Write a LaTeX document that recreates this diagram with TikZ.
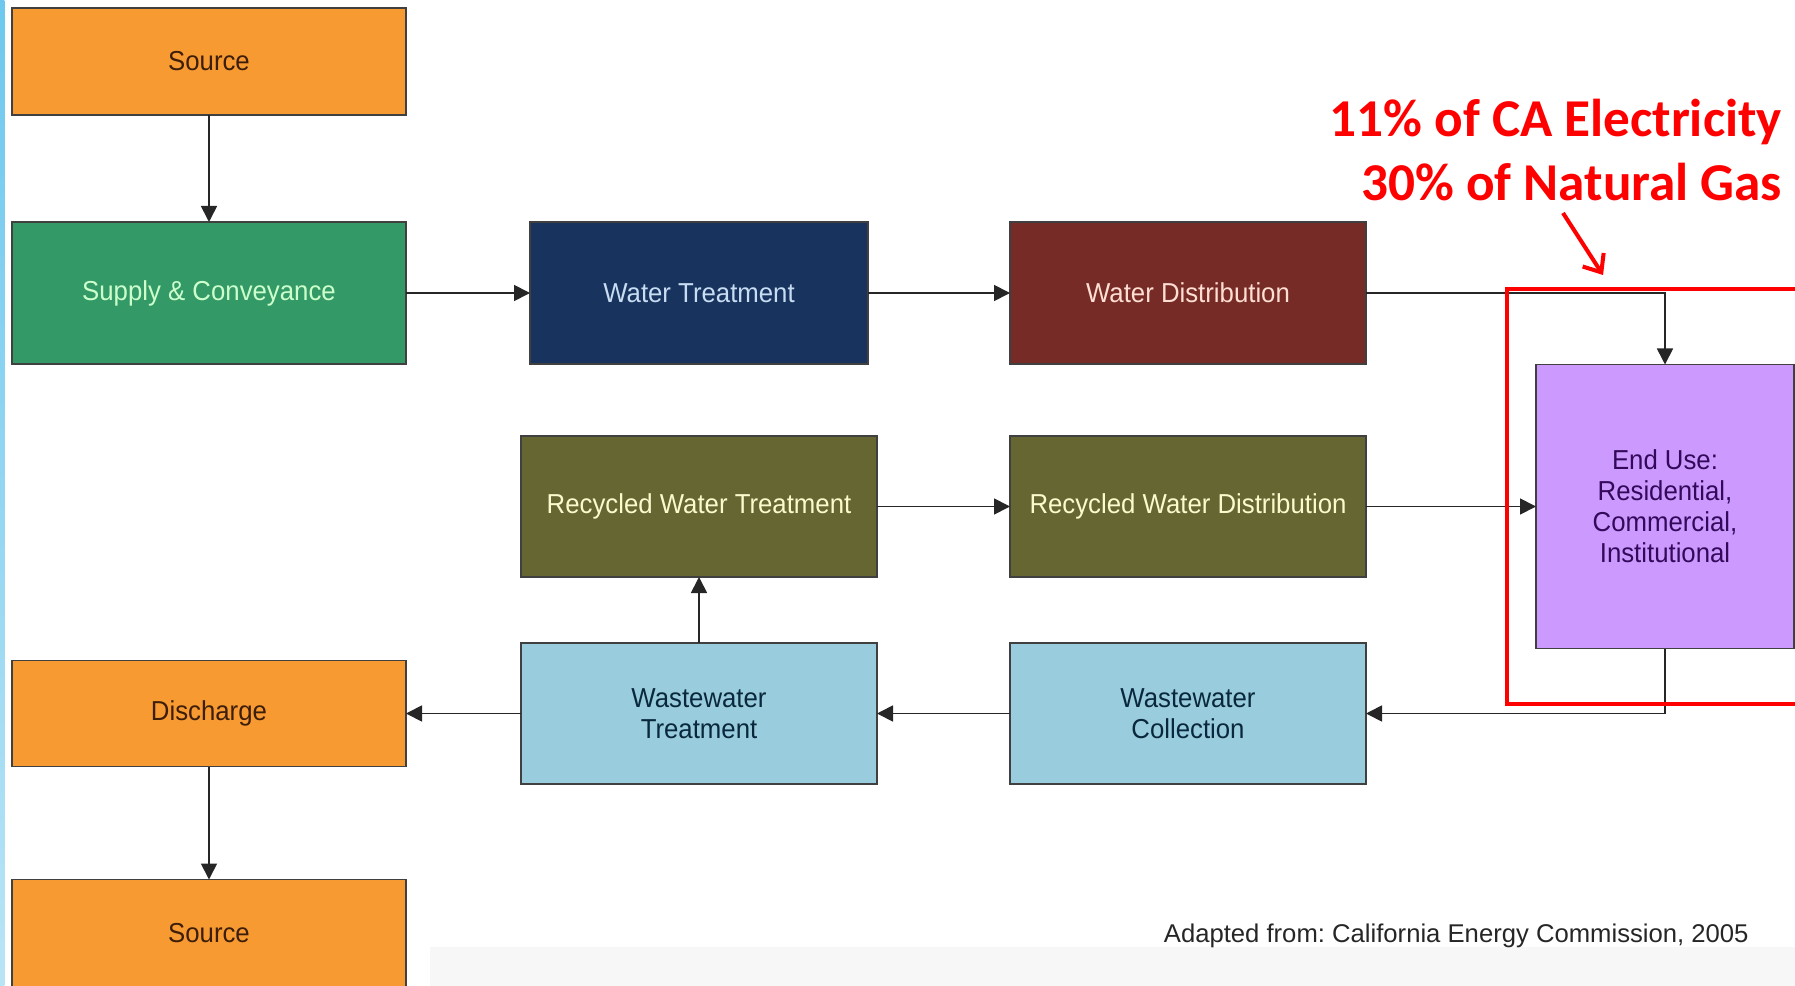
\documentclass[tikz,border=0pt]{standalone}
\usepackage{fontspec}
\setmainfont{Liberation Sans}
\newfontfamily\boxfont[FakeStretch=0.94]{Liberation Sans}
\newfontfamily\capfont{Liberation Sans}
\newfontfamily\notefont{Carlito}
\usetikzlibrary{positioning, arrows.meta}
\definecolor{myorange}{RGB}{248,154,50}
\definecolor{mygreen}{RGB}{51,153,102}
\definecolor{mynavy}{RGB}{23,51,94}
\definecolor{mybrown}{RGB}{119,43,38}
\definecolor{myolive}{RGB}{102,102,51}
\definecolor{mysky}{RGB}{153,204,221}
\definecolor{mypurple}{RGB}{204,153,255}
\frenchspacing

\begin{document}
\begin{tikzpicture}[->,>={Triangle[length=0.32cm,width=0.32cm]},line width=1pt,draw=black!85]
  \tikzstyle{stage}=[rectangle,draw=black!75,line width=1pt,outer sep=0pt,inner sep=2pt,align=center,
    minimum width=7.12cm,minimum height=2.82cm,font=\boxfont\fontsize{15.6}{17.6}\selectfont]
  \tikzstyle{orange}=[stage,fill=myorange,text={rgb,255:red,60;green,30;blue,10},minimum width=7.88cm,minimum height=2.14cm]
  \tikzstyle{hilite}=[rectangle,draw=red,line width=2.3pt]

  \useasboundingbox (0,0) rectangle (35.9,-19.72);
  \shade[top color={rgb,255:red,110;green,200;blue,238},bottom color={rgb,255:red,185;green,228;blue,246}] (0,0) rectangle (0.09,-19.72);
  \fill[black!3] (8.6,-18.94) rectangle (35.9,-19.72);

  \node[orange] (src1) at (4.18,-1.23) {Source};
  \node[stage,fill=mygreen,text={rgb,255:red,204;green,255;blue,204},minimum width=7.88cm,minimum height=2.84cm] (sup) [below=2.14cm of src1] {Supply \& Conveyance};
  \node[stage,fill=mynavy,text={rgb,255:red,200;green,220;blue,242},minimum width=6.76cm,minimum height=2.84cm] (wt) [right=2.48cm of sup] {Water Treatment};
  \node[stage,fill=mybrown,text={rgb,255:red,255;green,222;blue,212},minimum height=2.84cm] (wd) [right=2.84cm of wt] {Water Distribution};
  \node[stage,fill=myolive,text={rgb,255:red,250;green,250;blue,205}] (rwt) [below=1.44cm of wt] {Recycled Water Treatment};
  \node[stage,fill=myolive,text={rgb,255:red,250;green,250;blue,205}] (rwd) [below=1.44cm of wd] {Recycled Water Distribution};
  \node[stage,fill=mysky,text={rgb,255:red,10;green,40;blue,60}] (wwt) [below=1.32cm of rwt] {Wastewater\\Treatment};
  \node[stage,fill=mysky,text={rgb,255:red,10;green,40;blue,60}] (wwc) [below=1.32cm of rwd] {Wastewater\\Collection};
  \node[stage,fill=mypurple,text={rgb,255:red,51;green,10;blue,90},minimum width=5.16cm,minimum height=5.68cm] (use) [right=3.4cm of rwd] {End Use:\\Residential,\\Commercial,\\Institutional};
  \node[orange,minimum height=2.12cm] (dis) [left=2.3cm of wwt] {Discharge};
  \node[orange] (src2) [below=2.26cm of dis] {Source};

  \path (src1) edge (sup);
  \path (sup) edge (wt);
  \path (wt) edge (wd);
  \draw (wd) -| (use);
  \path (rwt) edge (rwd);
  \path (rwd) edge (use);
  \draw (use) |- (wwc);
  \path (wwc) edge (wwt);
  \path (wwt) edge (rwt);
  \path (wwt) edge (dis);
  \path (dis) edge (src2);

  % highlight of the end use
  \node[hilite,anchor=north west,minimum width=6.4cm,minimum height=8.3cm] (hl) at (30.1,-5.74) {};
  \node[font=\notefont\bfseries\fontsize{30.3}{36.4}\selectfont,text=red,align=right,anchor=north east,inner sep=0pt] (note) at (35.66,-1.96) {11\% of CA Electricity\\30\% of Natural Gas};
  \coordinate (notetail) at (31.26,-4.26);
  \coordinate (notetip) at (32.06,-5.5);
  \draw[red,line width=2.3pt,-{Straight Barb[length=0.3cm,width=0.5cm]}] (notetail) -- (notetip);

  \node[font=\capfont\fontsize{14.6}{17}\selectfont,text=black!85,anchor=base west,inner sep=0pt] (credit) at (23.26,-18.84) {Adapted from: California Energy Commission, 2005};
\end{tikzpicture}
\end{document}
